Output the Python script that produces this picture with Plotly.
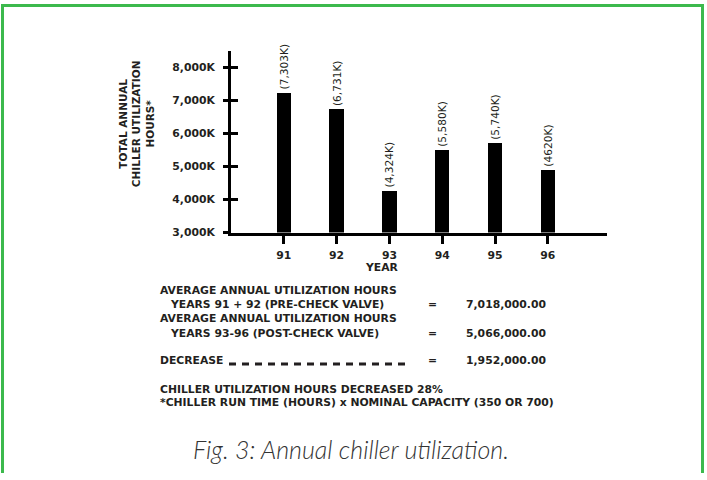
import plotly.graph_objects as go

W, H = 707, 480

# ---- data ----
years = [91, 92, 93, 94, 95, 96]
# bar heights as drawn in the figure (thousand hours)
bar_heights = [7230, 6730, 4270, 5500, 5710, 4900]
bar_labels = ["(7,303K)", "(6,731K)", "(4,324K)", "(5,580K)", "(5,740K)", "(4620K)"]
y_tick_vals = [3000, 4000, 5000, 6000, 7000, 8000]
y_tick_text = ["3,000K", "4,000K", "5,000K", "6,000K", "7,000K", "8,000K"]
x_tick_text = ["91", "92", "93", "94", "95", "96"]

summary_desc = [
    ("AVERAGE ANNUAL UTILIZATION HOURS", "YEARS 91 + 92 (PRE-CHECK VALVE)"),
    ("AVERAGE ANNUAL UTILIZATION HOURS", "YEARS 93-96 (POST-CHECK VALVE)"),
    ("DECREASE", None),
]
summary_values = ["7,018,000.00", "5,066,000.00", "1,952,000.00"]
footnotes = ["CHILLER UTILIZATION HOURS DECREASED 28%",
             "*CHILLER RUN TIME (HOURS) x NOMINAL CAPACITY (350 OR 700)"]
caption = "Fig. 3: Annual chiller utilization."
y_title = "TOTAL ANNUAL<br>CHILLER UTILIZATION<br>HOURS*"
x_title = "YEAR"

# ---- helpers: pixel -> paper ----
def PX(x):
    return x / W

def PY(y):
    return 1 - y / H

INK = "#231f20"
GREEN = "#3cb94d"
FAM = "'DejaVu Sans', sans-serif"
BOLD = dict(family=FAM, size=10.8, color=INK, weight="bold")

fig = go.Figure()
fig.add_trace(go.Bar(
    x=years, y=bar_heights, width=0.27, marker=dict(color="#000000", line=dict(width=0)),
    text=bar_labels, textposition="outside", textangle=-90, constraintext="none",
    textfont=dict(family=FAM, size=10.6, color=INK),
    cliponaxis=False, hoverinfo="skip", showlegend=False,
))
# invisible trace to carry the inner tick marks on an overlay axis
fig.add_trace(go.Scatter(x=years, y=bar_heights, mode="markers", marker=dict(opacity=0),
                         yaxis="y2", hoverinfo="skip", showlegend=False))

x_dom = [PX(231), PX(607)]
y_dom = [PY(236), PY(52)]
y_rng = [3000, 8476]

fig.update_layout(
    width=W, height=H, margin=dict(l=0, r=0, t=0, b=0),
    paper_bgcolor="white", plot_bgcolor="white",
    bargap=0,
    xaxis=dict(domain=x_dom, range=[90, 97.12], tickvals=years, ticktext=x_tick_text,
               showgrid=False, zeroline=False, showline=True, linewidth=3, linecolor="#000",
               ticks="outside", ticklen=8, tickwidth=3, tickcolor="#000",
               tickfont=BOLD, ticklabelstandoff=2),
    yaxis=dict(domain=y_dom, range=y_rng, tickvals=y_tick_vals, ticktext=y_tick_text,
               showgrid=False, zeroline=False, showline=True, linewidth=3, linecolor="#000",
               ticks="outside", ticklen=5, tickwidth=3, tickcolor="#000",
               tickfont=BOLD, ticklabelstandoff=6),
    yaxis2=dict(domain=y_dom, range=y_rng, overlaying="y", side="left", anchor="x",
                tickvals=y_tick_vals, showticklabels=False, showgrid=False, zeroline=False,
                showline=False, ticks="inside", ticklen=7, tickwidth=3, tickcolor="#000"),
    showlegend=False,
)

ann = []
ann.append(dict(x=PX(136), y=PY(126), xref="paper", yref="paper", text=y_title,
                textangle=-90, showarrow=False, xanchor="center", yanchor="middle",
                align="center", font=dict(BOLD, size=10.5)))
ann.append(dict(x=PX(382), y=PY(271), xref="paper", yref="paper", text=x_title,
                showarrow=False, xanchor="center", yanchor="middle", font=BOLD))

rows_y = [(295, 309), (323, 338), (366, None)]
for (l1, l2), (y1, y2), val in zip(summary_desc, rows_y, summary_values):
    ann.append(dict(x=PX(158), y=PY(y1), xref="paper", yref="paper", text=l1,
                    showarrow=False, xanchor="left", yanchor="middle", font=BOLD))
    vy = y1
    if l2 is not None:
        ann.append(dict(x=PX(168), y=PY(y2), xref="paper", yref="paper", text=l2,
                        showarrow=False, xanchor="left", yanchor="middle", font=BOLD))
        vy = y2
    ann.append(dict(x=PX(432), y=PY(vy), xref="paper", yref="paper", text="=",
                    showarrow=False, xanchor="center", yanchor="middle", font=BOLD))
    ann.append(dict(x=PX(464), y=PY(vy), xref="paper", yref="paper", text=val,
                    showarrow=False, xanchor="left", yanchor="middle", font=BOLD))

for t, yy in zip(footnotes, [395.5, 408]):
    ann.append(dict(x=PX(158), y=PY(yy), xref="paper", yref="paper", text=t,
                    showarrow=False, xanchor="left", yanchor="middle", font=BOLD))

ann.append(dict(x=PX(351), y=PY(456), xref="paper", yref="paper", text=caption,
                showarrow=False, xanchor="center", yanchor="middle",
                font=dict(family="Lato, 'Open Sans', sans-serif", size=25, color="#333",
                          style="italic", weight=300)))
fig.update_layout(annotations=ann)

shapes = [
    # dashed leader line after DECREASE
    dict(type="line", xref="paper", yref="paper", x0=PX(229), x1=PX(405), y0=PY(369.5), y1=PY(369.5),
         line=dict(color=INK, width=3, dash="7px,6px")),
    # green frame (left, top, right)
    dict(type="line", xref="paper", yref="paper", x0=PX(2.5), x1=PX(2.5), y0=PY(4.5), y1=PY(480),
         line=dict(color=GREEN, width=3)),
    dict(type="line", xref="paper", yref="paper", x0=PX(1), x1=PX(704), y0=PY(5.5), y1=PY(5.5),
         line=dict(color=GREEN, width=3)),
    dict(type="line", xref="paper", yref="paper", x0=PX(702.5), x1=PX(702.5), y0=PY(4.5), y1=PY(480),
         line=dict(color=GREEN, width=3)),
]
fig.update_layout(shapes=shapes)

post = (
    "document.documentElement.style.margin='0';document.documentElement.style.overflow='hidden';"
    "document.body.style.margin='0';document.body.style.overflow='hidden';"
    "var d=document.getElementsByClassName('plotly-graph-div')[0];"
    "d.style.position='fixed';d.style.left='0px';d.style.top='0px';"
)
fig.write_html("out.html", config={"displayModeBar": False, "staticPlot": True}, post_script=post)
